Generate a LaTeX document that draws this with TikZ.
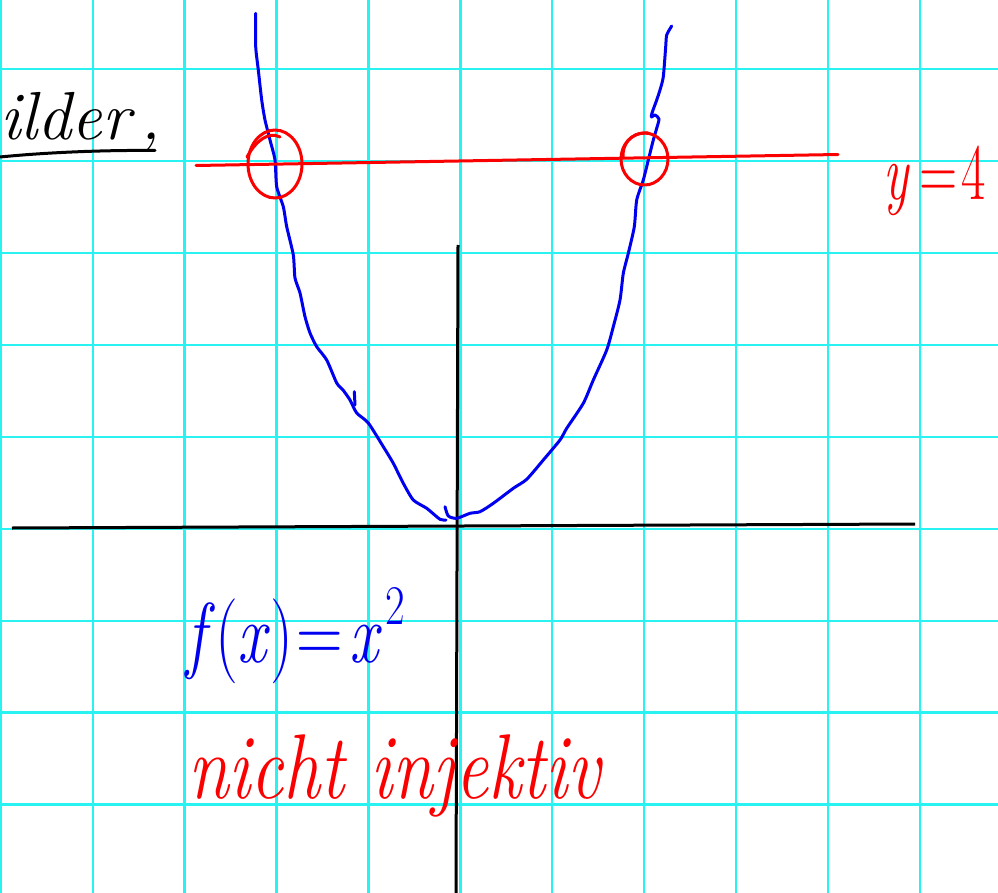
\documentclass[tikz,border=0pt]{standalone}
\usepackage{graphicx}
\definecolor{gridcyan}{RGB}{40,242,242}
\definecolor{penblue}{RGB}{0,0,240}
\definecolor{penred}{RGB}{250,0,0}
\begin{document}
\begin{tikzpicture}[x=1pt,y=-1pt,
  gridline/.style={gridcyan,line width=2.4pt},
  axisline/.style={black,line width=3pt},
  bluepen/.style={penblue,line width=3pt,line cap=round,line join=round},
  redpen/.style={penred,line width=3pt,line cap=round,line join=round},
  blackpen/.style={black,line width=3pt,line cap=round,line join=round},
  hand/.style={inner sep=0pt,anchor=base west}]
\useasboundingbox[fill=white] (0,0) rectangle (998,893);
% grid
\foreach \i in {0,...,10} \draw[gridline] ({0.8+91.9*\i},0) -- ({0.8+91.9*\i},893);
\foreach \j in {0,...,8} \draw[gridline] (0,{69.3+91.9*\j}) -- (998,{69.3+91.9*\j});
% axes
\coordinate (xl) at (12,528);
\coordinate (xr) at (915,524);
\coordinate (yt) at (458,245);
\coordinate (yb) at (456,893);
\draw[axisline] (xl) -- (xr);
\draw[axisline] (yt) -- (yb);
% parabola
\draw[bluepen] plot[smooth,tension=0.4] coordinates {
 (255.7,13.3) (255.7,46.7) (258.3,70) (261.7,100) (265,120) (270,140) (275,160)
 (276.7,186.7) (283.3,206.7) (286.7,226.7) (293.3,255) (295,278) (300,293)
 (305,316.7) (310,333) (316.7,346.7) (326.7,360) (336.7,383) (343,390) (350,400)
 (356.7,413) (368.3,423) (383.3,446.7) (393.3,463.3) (403.3,483.3) (413.3,500)
 (426.7,508.3) (440,519.3) (446,520)};
\draw[bluepen] (354.3,391.7) -- (355,405);
\draw[bluepen] plot[smooth,tension=0.4] coordinates {
 (445,506.7) (448.3,516) (456.7,518.3) (470,513.3) (480,511.7) (493.3,503.3)
 (513.3,488.3) (526.7,479.3) (543.3,460) (560,440) (566.7,428.3) (583.3,403.3)
 (593.3,380) (606.7,350) (613.3,326.7) (620,300) (623.3,273.3) (628.3,253.3)
 (634.3,226.7) (636.7,200) (643.3,180) (648.3,160) (653.3,140) (656.7,128.3)
 (659,119) (655,115) (651.5,117) (652,113) (656.7,100) (660,90) (663.3,76.7)
 (665.7,46.7) (666.7,35) (671.7,26)};
% red line y=4 and circles
\coordinate (rl) at (196,165.5);
\coordinate (rr) at (838,154.5);
\draw[redpen] (rl) -- (rr);
\draw[redpen] (275,164) ellipse [x radius=27pt, y radius=34pt];
\draw[redpen] (247,157) .. controls (256,141) and (268,131) .. (280,137);
\draw[redpen] (644.5,159) ellipse [x radius=23.5pt, y radius=26pt];
\draw[redpen] (648,133) .. controls (630,132) and (622,145) .. (623,158);
% texts
\node[hand,black] (bilder) at (0,140) {\fontsize{68}{68}\selectfont\itshape ilder\hspace{10pt},};
\coordinate (ulA) at (0,157);
\coordinate (ulB) at (155,150.5);
\draw[blackpen] (ulA) .. controls (50,152) and (110,150) .. (ulB);
\node[hand,penred] (yeq) at (883,200) {\scalebox{0.66}[1]{\fontsize{80}{80}\selectfont\itshape y\/\hspace{14pt}\upshape =\hspace{6pt}4}};
\node[hand,penblue] (fx) at (186,662) {\scalebox{0.76}[1]{\fontsize{85}{85}\selectfont\itshape f\/\upshape(\itshape x\/\upshape)\hspace{4pt}=\hspace{8pt}\itshape x\hspace{10pt}\upshape\raisebox{38pt}{\fontsize{56}{56}\selectfont 2}}};
\node[hand,penred] (inj) at (188,798) {\scalebox{0.8}[1]{\fontsize{92}{92}\selectfont\itshape nicht injektiv}};
\end{tikzpicture}
\end{document}
